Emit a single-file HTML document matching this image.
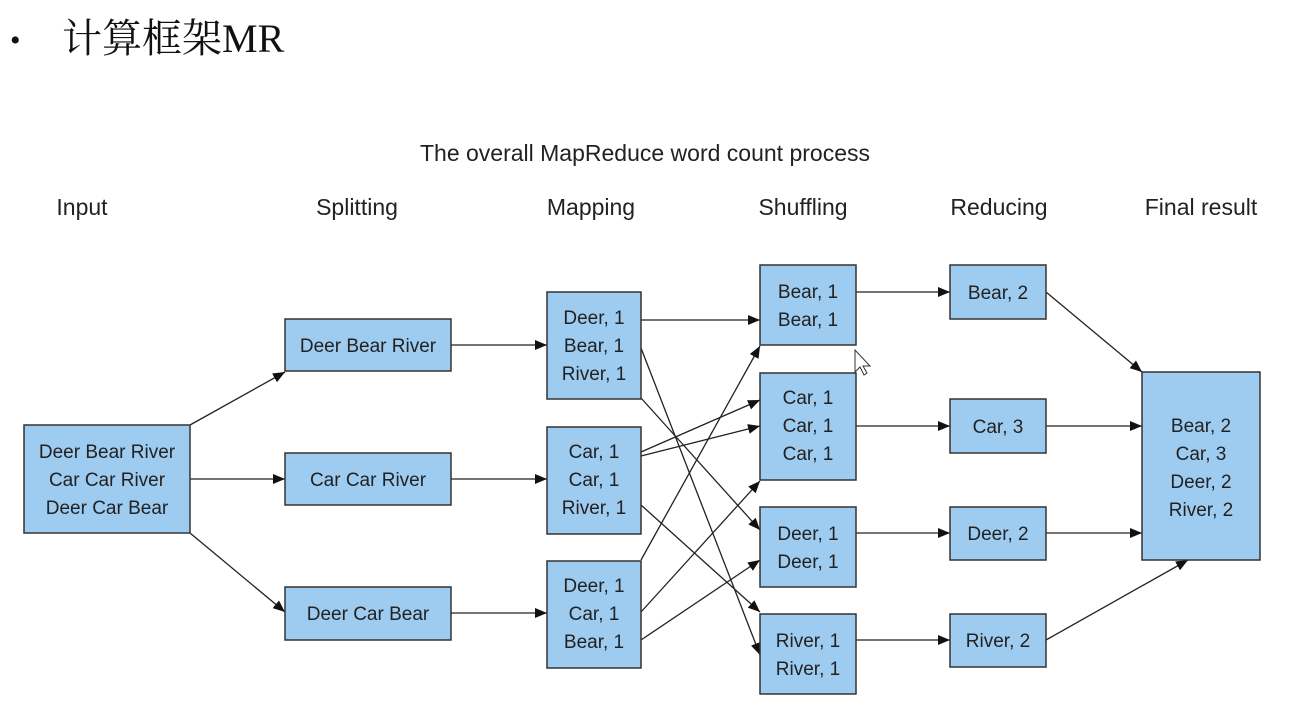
<!DOCTYPE html>
<html><head><meta charset="utf-8"><style>
html,body{margin:0;padding:0;background:#fff;width:1315px;height:708px;overflow:hidden}
svg{display:block}
text{font-family:"Liberation Sans",sans-serif;fill:#222}
</style></head><body>
<svg width="1315" height="708" viewBox="0 0 1315 708">
<defs><marker id="a" markerWidth="12" markerHeight="10" refX="12" refY="5" orient="auto" markerUnits="userSpaceOnUse"><path d="M0,0 L12,5 L0,10 z" fill="#111"/></marker></defs>
<text x="10" y="50" style="font-family:'Liberation Serif','Noto Serif CJK SC',serif;font-size:30px;fill:#111">•</text>
<text x="62" y="52" style="font-family:'Liberation Serif','Noto Serif CJK SC',serif;font-size:40px;fill:#111">计算框架MR</text>
<text x="645" y="161" text-anchor="middle" font-size="23">The overall MapReduce word count process</text>
<g font-size="23" text-anchor="middle">
<text x="82" y="215">Input</text><text x="357" y="215">Splitting</text><text x="591" y="215">Mapping</text>
<text x="803" y="215">Shuffling</text><text x="999" y="215">Reducing</text><text x="1201" y="215">Final result</text></g>
<g stroke="#222" stroke-width="1.3" fill="none" marker-end="url(#a)">
<line x1="190" y1="425" x2="285" y2="372"/><line x1="190" y1="479" x2="285" y2="479"/><line x1="190" y1="533" x2="285" y2="612"/>
<line x1="451" y1="345" x2="547" y2="345"/><line x1="451" y1="479" x2="547" y2="479"/><line x1="451" y1="613" x2="547" y2="613"/>
<line x1="641" y1="320" x2="760" y2="320"/>
<line x1="641" y1="348" x2="760" y2="655"/>
<line x1="641" y1="398" x2="760" y2="530"/>
<line x1="641" y1="452" x2="760" y2="400"/>
<line x1="641" y1="456" x2="760" y2="426"/>
<line x1="641" y1="505" x2="760" y2="612"/>
<line x1="641" y1="560" x2="760" y2="346"/>
<line x1="641" y1="612" x2="760" y2="481"/>
<line x1="641" y1="640" x2="760" y2="560"/>
<line x1="856" y1="292" x2="950" y2="292"/><line x1="856" y1="426" x2="950" y2="426"/><line x1="856" y1="533" x2="950" y2="533"/><line x1="856" y1="640" x2="950" y2="640"/>
<line x1="1046" y1="292" x2="1142" y2="372"/><line x1="1046" y1="426" x2="1142" y2="426"/><line x1="1046" y1="533" x2="1142" y2="533"/><line x1="1046" y1="640" x2="1188" y2="560"/>
</g>
<g fill="#9ecbf0" stroke="#333" stroke-width="1.5">
<rect x="24" y="425" width="166" height="108"/>
<rect x="285" y="319" width="166" height="52"/><rect x="285" y="453" width="166" height="52"/><rect x="285" y="587" width="166" height="53"/>
<rect x="547" y="292" width="94" height="107"/><rect x="547" y="427" width="94" height="107"/><rect x="547" y="561" width="94" height="107"/>
<rect x="760" y="265" width="96" height="80"/><rect x="760" y="373" width="96" height="107"/><rect x="760" y="507" width="96" height="80"/><rect x="760" y="614" width="96" height="80"/>
<rect x="950" y="265" width="96" height="54"/><rect x="950" y="399" width="96" height="54"/><rect x="950" y="507" width="96" height="53"/><rect x="950" y="614" width="96" height="53"/>
<rect x="1142" y="372" width="118" height="188"/>
</g>
<g font-size="19" text-anchor="middle">
<text x="107" y="458">Deer Bear River</text><text x="107" y="486">Car Car River</text><text x="107" y="514">Deer Car Bear</text>
<text x="368" y="352">Deer Bear River</text><text x="368" y="486">Car Car River</text><text x="368" y="620">Deer Car Bear</text>
<text x="594" y="324">Deer, 1</text><text x="594" y="352">Bear, 1</text><text x="594" y="380">River, 1</text>
<text x="594" y="458">Car, 1</text><text x="594" y="486">Car, 1</text><text x="594" y="514">River, 1</text>
<text x="594" y="592">Deer, 1</text><text x="594" y="620">Car, 1</text><text x="594" y="648">Bear, 1</text>
<text x="808" y="298">Bear, 1</text><text x="808" y="326">Bear, 1</text>
<text x="808" y="404">Car, 1</text><text x="808" y="432">Car, 1</text><text x="808" y="460">Car, 1</text>
<text x="808" y="540">Deer, 1</text><text x="808" y="568">Deer, 1</text>
<text x="808" y="647">River, 1</text><text x="808" y="675">River, 1</text>
<text x="998" y="299">Bear, 2</text><text x="998" y="433">Car, 3</text><text x="998" y="540">Deer, 2</text><text x="998" y="647">River, 2</text>
<text x="1201" y="432">Bear, 2</text><text x="1201" y="460">Car, 3</text><text x="1201" y="488">Deer, 2</text><text x="1201" y="516">River, 2</text>
</g>
<path d="M855,350 L855,372 L860,367 L864,375 L867,373 L863,366 L870,366 z" fill="#fff" stroke="#333" stroke-width="1"/>
</svg>
</body></html>
